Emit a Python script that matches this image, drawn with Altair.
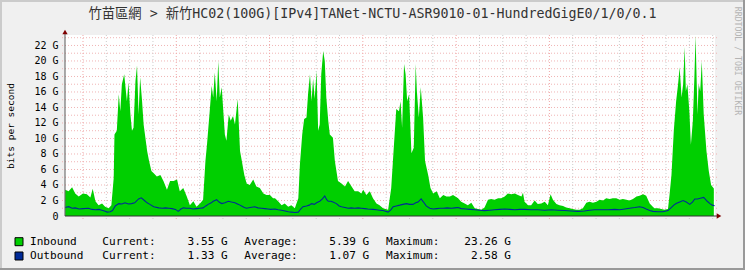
import altair as alt
import pandas as pd

# ---------------- data ----------------
title_text = "竹苗區網 > 新竹HC02(100G)[IPv4]TANet-NCTU-ASR9010-01-HundredGigE0/1/0/0.1"
y_axis_title = "bits per second"
watermark = "RRDTOOL / TOBI OETIKER"

day_labels = ["Tue", "Wed", "Thu", "Fri", "Sat", "Sun", "Mon"]
day_label_hours = [12, 36, 60, 84, 108, 132, 156]
midnight_hours = [0, 24, 48, 72, 96, 120, 144]
six_hour_lines = [6, 12, 18, 30, 36, 42, 54, 60, 66, 78, 84, 90, 102, 108, 114,
                  126, 132, 138, 150, 156, 162]
y_tick_values = [0, 2, 4, 6, 8, 10, 12, 14, 16, 18, 20, 22]
y_grid_values = list(range(1, 24))

# hours since Tuesday 00:00, inbound in Gbit/s
in_hours = [
    -4.6, -3.7, -2.8, -2.0, -1.1, 0.0, 1.0, 1.9, 2.5, 3.2, 4.0, 4.9, 5.7, 6.6, 7.3,
    7.9, 8.1, 8.7, 9.2, 9.6, 10.0, 10.6, 11.3, 11.7, 12.2, 12.6, 13.0, 13.5, 13.9,
    14.3, 14.7, 15.2, 15.6, 16.5, 17.0, 17.6, 18.2, 19.0, 19.9, 20.7, 21.6, 22.4,
    23.3, 24.2, 24.9, 25.8, 26.7, 27.5, 28.4, 29.2, 30.1, 30.9, 31.5, 31.9, 32.6,
    33.1, 33.5, 33.9, 34.4, 34.8, 35.2, 35.7, 36.1, 36.5, 36.9, 37.5, 38.0, 38.6,
    39.1, 39.8, 40.4, 40.8, 41.5, 42.1, 42.9, 43.8, 44.6, 45.5, 46.4, 47.2, 48.1,
    48.9, 49.4, 50.2, 51.1, 51.9, 52.8, 53.6, 54.5, 55.4, 55.8, 56.4, 56.9, 57.5,
    57.9, 58.4, 58.8, 59.2, 59.6, 60.1, 60.5, 60.9, 61.3, 61.8, 62.2, 62.6, 63.1,
    63.5, 64.3, 64.8, 65.6, 66.5, 67.4, 68.2, 69.1, 69.9, 70.8, 71.6, 72.1, 72.9,
    73.8, 74.6, 75.5, 76.3, 77.2, 78.5, 79.3, 79.9, 80.6, 81.3, 81.7, 82.1, 82.6,
    83.0, 83.4, 83.9, 84.5, 85.1, 85.6, 85.9, 86.4, 86.9, 87.5, 88.0, 88.8, 89.4,
    90.1, 91.0, 91.8, 92.7, 93.5, 94.4, 95.2, 96.5, 97.3, 98.2, 99.0, 99.9, 100.8,
    101.6, 102.5, 103.3, 104.2, 105.0, 105.9, 106.8, 107.6, 108.5, 109.3, 110.2,
    111.1, 111.9, 112.8, 113.2, 113.6, 114.5, 115.3, 116.2, 117.0, 117.9, 118.8,
    119.6, 120.3, 120.9, 121.8, 122.6, 123.5, 124.3, 125.2, 126.0, 126.9, 127.8,
    128.6, 129.5, 130.3, 131.2, 132.1, 132.9, 133.8, 134.6, 135.5, 136.3, 137.2,
    138.1, 138.9, 139.8, 140.6, 141.5, 142.4, 143.2, 144.1, 144.9, 145.8, 146.6,
    147.0, 147.9, 148.8, 149.6, 150.5, 150.9, 151.4, 152.0, 152.6, 153.1, 153.5,
    154.0, 154.4, 154.8, 155.1, 155.5, 156.0, 156.4, 156.9, 157.3, 157.6, 158.1,
    158.4, 158.8, 159.2, 159.7, 160.4, 161.0, 161.6, 162.3,
]
in_values = [
    3.4, 3.2, 3.7, 2.9, 2.5, 2.9, 2.8, 2.4, 3.5, 1.9, 1.4, 1.6, 1.2, 1.0, 1.4,
    4.9, 10.5, 11.0, 15.7, 13.5, 17.0, 18.3, 14.8, 17.2, 13.1, 11.0, 11.4, 17.4, 19.4,
    13.1, 17.9, 14.8, 11.8, 8.4, 7.1, 5.8, 5.5, 5.1, 5.3, 4.5, 3.4, 4.5,
    4.5, 4.7, 3.2, 3.6, 2.5, 1.4, 1.9, 1.2, 1.6, 2.1, 7.1, 9.2, 13.5,
    16.8, 15.3, 18.5, 14.8, 20.0, 15.3, 16.6, 13.5, 10.5, 9.7, 13.1, 12.3, 12.9,
    11.8, 15.1, 8.4, 7.3, 5.3, 4.2, 4.0, 4.7, 3.8, 3.6, 2.9, 2.7, 2.7,
    2.3, 2.3, 1.9, 1.4, 1.6, 1.2, 1.4, 1.0, 2.3, 6.6, 10.5, 12.5, 12.7,
    15.7, 18.3, 14.8, 17.7, 15.1, 18.7, 11.0, 11.8, 18.3, 21.3, 20.0, 15.3, 12.3,
    10.5, 10.1, 7.1, 4.5, 4.2, 3.8, 4.5, 3.8, 3.2, 3.2, 2.9, 3.4, 2.7,
    3.2, 2.3, 1.6, 1.4, 1.0, 0.8, 3.6, 8.4, 13.8, 13.5, 14.8, 11.4, 19.6,
    18.3, 14.8, 15.7, 8.1, 8.8, 19.6, 16.1, 12.7, 16.6, 12.7, 7.1, 5.3, 3.6,
    2.9, 3.2, 2.3, 2.7, 2.5, 2.5, 2.7, 2.3, 1.85, 1.6, 1.4, 1.7, 1.0,
    0.9, 0.8, 1.1, 2.1, 2.2, 2.1, 2.3, 2.3, 2.5, 2.9, 2.8,
    2.9, 2.7, 2.5, 3.0, 1.85, 1.4, 1.4, 2.0, 1.55, 1.6, 1.85,
    1.4, 2.8, 2.1, 1.55, 1.4, 1.3, 1.1, 1.0, 0.9, 0.8, 0.8,
    1.0, 1.7, 1.85, 1.7, 1.85, 2.1, 2.0, 2.3, 2.2, 2.3, 2.3,
    2.1, 2.2, 2.1, 2.0, 2.2, 2.5, 2.6, 2.8, 2.6, 1.6, 1.2,
    1.0, 1.0, 0.9, 0.8, 0.9, 2.7, 5.3, 11.0, 14.8, 17.0, 19.2,
    15.3, 17.0, 21.8, 16.1, 17.0, 13.5, 9.2, 12.3, 17.9, 23.26, 13.1,
    17.0, 16.1, 20.0, 13.1, 8.4, 5.8, 4.0, 3.55,
]

out_hours = [
    -4.6, -3.7, -2.8, -2.0, -1.0, 0.0, 1.4, 2.3, 3.2, 4.1, 4.9, 5.7, 6.2, 7.0, 7.6,
    8.3, 9.2, 10.0, 10.8, 11.7, 12.5, 13.3, 14.3, 15.0, 15.8, 16.5, 17.2, 18.2, 19.5,
    20.4, 21.2, 22.1, 22.9, 23.8, 24.5, 25.2, 25.8, 26.6, 27.5, 28.3, 29.2, 30.1,
    30.9, 31.6, 32.2, 33.0, 33.5, 34.4, 35.0, 35.7, 36.5, 37.4, 38.2, 39.1, 40.0,
    40.8, 41.5, 42.1, 43.0, 44.2, 45.0, 45.9, 46.8, 47.6, 48.3, 49.4, 50.2, 51.1,
    52.0, 52.8, 53.6, 54.5, 55.4, 56.0, 56.6, 57.5, 58.2, 58.8, 59.5, 60.1, 60.9,
    61.6, 62.2, 62.7, 63.1, 63.8, 64.3, 65.2, 65.9, 66.5, 67.4, 68.2, 69.0, 69.9,
    70.8, 71.6, 72.5, 73.3, 74.6, 75.5, 76.3, 77.2, 78.5, 79.2, 79.8, 80.6, 81.5,
    82.3, 83.2, 84.0, 84.9, 85.6, 86.2, 87.0, 87.6, 88.3, 89.2, 90.1, 91.0, 91.8,
    92.7, 93.7, 94.8, 95.7, 96.5, 97.3, 98.5, 99.6, 100.8, 102.0, 103.3, 104.6,
    105.9, 107.2, 108.5, 109.8, 111.1, 112.4, 113.6, 115.3, 117.0, 118.8, 120.5,
    122.2, 123.9, 125.6, 127.3, 129.0, 130.3, 131.6, 133.4, 135.1, 136.8, 138.1,
    139.4, 140.6, 142.0, 143.2, 144.1, 144.9, 145.8, 146.6, 147.9, 149.2, 150.5,
    151.4, 152.0, 152.6, 153.5, 154.4, 155.2, 156.1, 156.8, 157.4, 158.1, 158.8,
    159.7, 160.6, 161.3, 161.9, 162.5,
]
out_values = [
    1.1, 1.2, 1.0, 1.05, 0.9, 0.95, 1.0, 0.85, 0.8, 0.85, 0.75, 0.6, 0.5, 0.55, 0.7,
    1.3, 1.6, 1.55, 1.7, 1.55, 1.6, 1.7, 2.2, 2.35, 2.0, 1.7, 1.5, 1.2, 1.05,
    1.0, 1.05, 1.0, 0.95, 0.85, 0.6, 0.9, 1.05, 1.0, 1.0, 0.9, 0.95, 1.0,
    1.05, 1.3, 1.5, 1.7, 1.9, 2.1, 1.8, 1.6, 1.7, 1.9, 1.8, 1.7, 1.5,
    1.3, 1.1, 1.0, 1.1, 1.2, 1.05, 1.0, 0.95, 0.9, 0.85, 0.9, 0.8, 0.75,
    0.65, 0.55, 0.5, 0.45, 0.5, 0.9, 1.2, 1.3, 1.4, 1.6, 1.5, 1.7, 1.9,
    2.2, 2.58, 2.1, 1.9, 1.9, 1.8, 1.6, 1.3, 1.2, 1.1, 1.0, 1.05, 1.0,
    1.05, 1.0, 0.95, 0.9, 0.85, 0.8, 0.75, 0.7, 0.5, 0.8, 1.2, 1.3, 1.4,
    1.5, 1.6, 1.5, 1.5, 1.7, 1.8, 2.2, 1.8, 1.3, 1.0, 0.9, 0.95, 1.0,
    1.0, 1.05, 1.0, 1.05, 1.1, 0.95, 0.9, 0.85, 0.8, 0.75, 0.7, 0.75,
    0.8, 0.85, 0.9, 0.85, 0.8, 0.85, 0.85, 0.8, 0.8, 0.75, 0.8,
    0.75, 0.7, 0.65, 0.6, 0.65, 0.75, 0.8, 0.8, 0.8, 0.85, 0.8,
    0.9, 1.0, 1.1, 1.2, 1.1, 0.9, 0.7, 0.6, 0.55, 0.55, 0.7,
    1.1, 1.4, 1.6, 1.8, 2.0, 1.8, 1.5, 1.8, 2.2, 2.2, 2.3,
    2.4, 1.9, 1.6, 1.4, 1.33,
]

legend_series = ["Inbound", "Outbound"]
legend_current = [3.55, 1.33]
legend_average = [5.39, 1.07]
legend_maximum = [23.26, 2.58]

# ---------------- styling ----------------
GREEN = "#00CF00"
BLUE = "#002A97"
MONO = "DejaVu Sans Mono"
TITLE_FONT = "DejaVu Sans Mono, Noto Sans CJK TC"
W, H = 650, 181
X_DOMAIN = [-4.63, 162.6]
Y_DOMAIN = [0, 23.35]

x_scale = alt.Scale(domain=X_DOMAIN, nice=False, zero=False)
y_scale = alt.Scale(domain=Y_DOMAIN, nice=False, zero=True)

in_df = pd.DataFrame({"h": in_hours, "v": in_values})
out_df = pd.DataFrame({"h": out_hours, "v": out_values})
one = pd.DataFrame({"a": [0]})

day_expr = "[" + ",".join("'%s'" % d for d in day_labels) + "][floor(datum.value / 24)]"

x_axis = alt.Axis(values=day_label_hours, labelExpr=day_expr, title=None, grid=False,
                  ticks=False, domain=False, labelFont=MONO, labelFontSize=10,
                  labelColor="#000000", labelPadding=5, labelFlush=False,
                  labelOverlap=False, zindex=1)
y_axis = alt.Axis(values=y_tick_values,
                  labelExpr="datum.value == 0 ? '0' : datum.value + ' G'",
                  title=y_axis_title, titleFont=MONO, titleFontSize=9.5,
                  titleFontWeight="normal", titleColor="#000000",
                  titleX=-55, titleY=H / 2, titleAngle=270, titleAlign="center",
                  titleBaseline="middle", grid=False, ticks=False, domain=False,
                  labelFont=MONO, labelFontSize=10, labelColor="#000000",
                  labelPadding=7, labelFlush=False, labelOverlap=False, zindex=1)

hgrid = alt.Chart(pd.DataFrame({"v": y_grid_values})).mark_rule(
    color="#F0B4B4", strokeWidth=1, strokeDash=[1, 2]
).encode(y=alt.Y("v:Q", scale=y_scale, axis=None), x=alt.value(-3), x2=alt.value(W + 2))

vminor = alt.Chart(pd.DataFrame({"h": six_hour_lines})).mark_rule(
    color="#CDCDCD", strokeWidth=1, strokeDash=[1, 2]
).encode(x=alt.X("h:Q", scale=x_scale, axis=None), y=alt.value(0), y2=alt.value(H + 3))

vmajor = alt.Chart(pd.DataFrame({"h": midnight_hours})).mark_rule(
    color="#F0A8A8", strokeWidth=1, strokeDash=[1, 2]
).encode(x=alt.X("h:Q", scale=x_scale, axis=None), y=alt.value(0), y2=alt.value(H + 3))

area = alt.Chart(in_df).mark_area(color=GREEN, opacity=1, clip=True).encode(
    x=alt.X("h:Q", scale=x_scale, axis=x_axis),
    y=alt.Y("v:Q", scale=y_scale, axis=y_axis),
)

line = alt.Chart(out_df).mark_line(color=BLUE, strokeWidth=1.1, clip=True).encode(
    x=alt.X("h:Q", scale=x_scale, axis=None),
    y=alt.Y("v:Q", scale=y_scale, axis=None),
)

# axis lines and arrows
yline = alt.Chart(one).mark_rule(color="#5A5A5A", strokeWidth=1).encode(
    x=alt.value(0), y=alt.value(-3), y2=alt.value(H))
xline = alt.Chart(one).mark_rule(color="#333333", strokeWidth=1).encode(
    x=alt.value(0), x2=alt.value(W + 3), y=alt.value(H))
up_arrow = alt.Chart(one).mark_point(shape="triangle-up", filled=True, color="#7F0000",
                                     size=28, opacity=1).encode(x=alt.value(0), y=alt.value(-3))
right_arrow = alt.Chart(one).mark_point(shape="triangle-right", filled=True, color="#7F0000",
                                        size=28, opacity=1).encode(x=alt.value(W + 4), y=alt.value(H))

# frame shading
frame_b = alt.Chart(one).mark_rule(color="#999999", strokeWidth=2).encode(
    x=alt.value(-65), x2=alt.value(680), y=alt.value(H + 53))
frame_r = alt.Chart(one).mark_rule(color="#999999", strokeWidth=2).encode(
    x=alt.value(679), y=alt.value(-35), y2=alt.value(H + 54))
frame_t = alt.Chart(one).mark_rule(color="#CBCBCB", strokeWidth=2).encode(
    x=alt.value(-65), x2=alt.value(680), y=alt.value(-34))
frame_l = alt.Chart(one).mark_rule(color="#CBCBCB", strokeWidth=2).encode(
    x=alt.value(-64), y=alt.value(-35), y2=alt.value(H + 52))

title = alt.Chart(pd.DataFrame({"t": [title_text]})).mark_text(
    font=TITLE_FONT, fontSize=13.3, align="center", baseline="middle", color="#333333"
).encode(x=alt.value(307.5), y=alt.value(-21), text="t:N")

wm = alt.Chart(pd.DataFrame({"t": [watermark]})).mark_text(
    font=MONO, fontSize=8.2, align="center", baseline="middle", color="#B4B4B4", angle=90
).encode(x=alt.value(672), y=alt.value(26), text="t:N")

# legend block
leg_df = pd.DataFrame({"series": legend_series, "current": legend_current,
                       "average": legend_average, "maximum": legend_maximum})
leg = alt.Chart(leg_df).transform_calculate(
    cur="format(datum.current, '.2f') + ' G'",
    avg="format(datum.average, '.2f') + ' G'",
    mx="format(datum.maximum, '.2f') + ' G'",
)
row_y = alt.Y("series:N", scale=alt.Scale(domain=legend_series, range=[206.7, 221.0],
                                          padding=0), axis=None)


def txt(xpos, text, align="left"):
    return leg.mark_text(font=MONO, fontSize=11.1, align=align, baseline="middle",
                         color="#000000").encode(x=alt.value(xpos), y=row_y, text=text)


swatch = leg.mark_square(size=64, stroke="#000000", strokeWidth=1, opacity=1,
                         filled=True).encode(
    x=alt.value(-46), y=row_y,
    fill=alt.Fill("series:N", scale=alt.Scale(domain=legend_series, range=[GREEN, BLUE]),
                  legend=None))

legend_layers = [
    swatch,
    txt(-35, "series:N"),
    txt(37.3, alt.value("Current:")),
    txt(162.7, "cur:N", "right"),
    txt(179.3, alt.value("Average:")),
    txt(304.3, "avg:N", "right"),
    txt(321, alt.value("Maximum:")),
    txt(446, "mx:N", "right"),
]

chart = alt.layer(
    hgrid, vminor, vmajor, area, line, yline, xline, up_arrow, right_arrow,
    frame_t, frame_l, frame_b, frame_r, title, wm, *legend_layers
).resolve_scale(y="independent").properties(
    width=W, height=H,
    padding={"left": 65, "top": 35, "right": 30, "bottom": 54},
    autosize=alt.AutoSizeParams(type="none"),
    background="#F0F0F0",
).configure_view(fill="#FFFFFF", strokeWidth=0)

chart.save("out.html", embed_options={"renderer": "svg", "actions": False})
